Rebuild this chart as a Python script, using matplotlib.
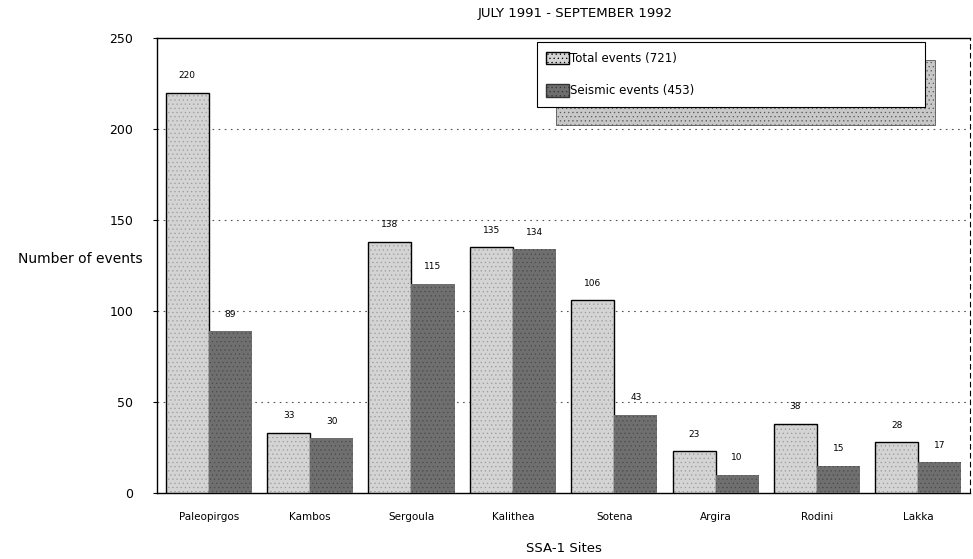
import matplotlib
matplotlib.use("Agg")
import matplotlib.pyplot as plt
import numpy as np
from matplotlib.patches import Rectangle, Patch

# --- data ---------------------------------------------------------------------
sites = ["Paleopirgos", "Kambos", "Sergoula", "Kalithea", "Sotena",
         "Argira", "Rodini", "Lakka"]
total_events = [220, 33, 138, 135, 106, 23, 38, 28]
seismic_events = [89, 30, 115, 134, 43, 10, 15, 17]
yticks = [0, 50, 100, 150, 200, 250]

TOTAL_COLOR = "#d4d4d4"
SEISMIC_COLOR = "#6f6f6f"

plt.rcParams["font.family"] = "DejaVu Sans"
plt.rcParams["hatch.linewidth"] = 0.4

fig = plt.figure(figsize=(9.73, 5.59), dpi=100)
ax = fig.add_axes([0.1614, 0.118, 0.8356, 0.814])

x = np.arange(len(sites))
w = 0.425
b1 = ax.bar(x - w / 2, total_events, width=w, color=TOTAL_COLOR,
            edgecolor="black", linewidth=1.0, hatch="....", zorder=3)
b2 = ax.bar(x + w / 2, seismic_events, width=w, color=SEISMIC_COLOR,
            linewidth=0, hatch="....", zorder=3)
for p in b1:
    p._hatch_color = matplotlib.colors.to_rgba("#9a9a9a")
for p in b2:
    p._hatch_color = matplotlib.colors.to_rgba("#4a4a4a")

for xs, vals in ((x - w / 2, total_events), (x + w / 2, seismic_events)):
    for xi, v in zip(xs, vals):
        ax.annotate(str(v), (xi, v), xytext=(0, 9), textcoords="offset points",
                    ha="center", va="bottom", fontsize=6.5)

ax.set_xlim(-0.51, len(sites) - 0.49)
ax.set_ylim(0, 250)
ax.set_yticks(yticks)
ax.set_yticklabels([str(t) for t in yticks], fontsize=9)
ax.set_xticks(x)
ax.set_xticklabels(sites, fontsize=7.5)
ax.tick_params(axis="x", length=0, pad=14)
ax.tick_params(axis="y", length=3, pad=14)

# dotted horizontal grid
for t in yticks[1:-1]:
    ax.axhline(t, color="#555555", linestyle=(0, (1.5, 4)), linewidth=0.8, zorder=1)

for s in ("left", "top", "bottom"):
    ax.spines[s].set_linewidth(1.0)
ax.spines["right"].set_linestyle((0, (4, 4)))
ax.spines["right"].set_linewidth(0.8)

ax.set_ylabel("Number of events", fontsize=10, rotation=0, ha="right", va="center")
ax.yaxis.set_label_coords(-0.018, 0.515)
ax.set_xlabel("SSA-1 Sites", fontsize=9.5, labelpad=14)
fig.text(0.591, 0.975, "JULY 1991 - SEPTEMBER 1992", ha="center", va="center", fontsize=9.5)

# legend with a large offset shadow (drawn by hand)
shadow = Rectangle((0.4908, 0.8088), 0.4662, 0.1428, transform=ax.transAxes,
                   facecolor="#c8c8c8", edgecolor="#555555", linewidth=0.6,
                   hatch="....", zorder=5)
ax.add_patch(shadow)
handles = [Patch(facecolor=TOTAL_COLOR, edgecolor="black", hatch="....", label="Total events (721)"),
           Patch(facecolor=SEISMIC_COLOR, edgecolor="#333333", hatch="....", label="Seismic events (453)")]
leg = ax.legend(handles=handles, loc="upper left",
                bbox_to_anchor=(0.467, 0.991, 0.4776, 0.0), mode="expand",
                fontsize=8.5, frameon=True, fancybox=False, framealpha=1,
                edgecolor="black", borderpad=0.8, labelspacing=1.6,
                handlelength=1.9, handleheight=1.3, handletextpad=0.15,
                borderaxespad=0)
leg.get_frame().set_linewidth(0.8)
leg.set_zorder(6)

fig.savefig("out.png", dpi=100)
